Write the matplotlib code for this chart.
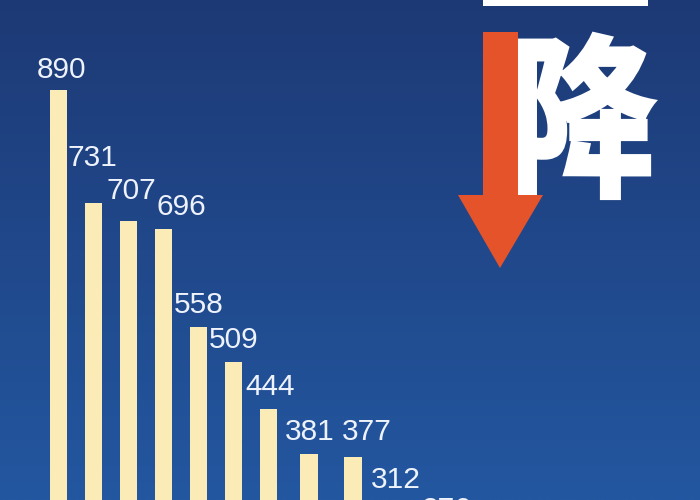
import numpy as np
import matplotlib
matplotlib.use("Agg")
import matplotlib.pyplot as plt
from matplotlib.textpath import TextPath
from matplotlib.font_manager import FontProperties
from matplotlib.patches import PathPatch, Polygon, Rectangle
from matplotlib.transforms import Affine2D

# values (last one is cut off at the bottom edge)
values = [890, 731, 707, 696, 558, 509, 444, 381, 377, 312, 276]
labels = [str(v) for v in values]
headline = "降"

# layout only: bar slots (spacing widens to the right) and label nudges in px
slots = [0, 1, 2, 3, 4, 5, 6, 7.16, 8.41, 9.44, 10.61]
nudge_x = [3, -1, 3, 18, 0, 0, 2, 1, 14, 7, 17]
nudge_y = [-2, 23, 8, 0, 0, 0, 0, 0, 3, 2, -3]

bar_color = "#fbebb6"
arrow_color = "#e5532b"
label_color = "#eef3fb"

fig = plt.figure(figsize=(7, 5), dpi=100)

# background gradient, dark navy at top to brighter blue at bottom
bg = fig.add_axes([0, 0, 1, 1])
grad = np.linspace(0, 1, 256).reshape(-1, 1)
cmap = matplotlib.colors.LinearSegmentedColormap.from_list("bg", ["#1d3975", "#2357a0"])
bg.imshow(grad, aspect="auto", cmap=cmap, extent=[0, 1, 0, 1], origin="upper")
bg.axis("off")

# bars: baseline sits below the bottom of the picture
ax = fig.add_axes([0, 0, 1, 1])
ax.patch.set_alpha(0)
ax.bar(slots, values, width=0.5, color=bar_color, zorder=2)
for xi, v, lab, dx, dy in zip(slots, values, labels, nudge_x, nudge_y):
    ax.annotate(lab, (xi, v), xytext=(dx, 22 + dy), textcoords="offset pixels",
                ha="center", va="center", color=label_color, fontsize=21.5,
                family="Liberation Sans", annotation_clip=False)
ax.set_xlim(-1.671, 18.33)
ax.set_ylim(317, 1015)
ax.axis("off")

# overlay in pixel coords for the headline graphic
ov = fig.add_axes([0, 0, 1, 1])
ov.patch.set_alpha(0)
ov.set_xlim(0, 700)
ov.set_ylim(500, 0)
ov.axis("off")

# white block of the character above (cut off at the top)
ov.add_patch(Rectangle((483, -5), 165, 11, color="white", lw=0))

# big character, squeezed into its box and thickened
tp = TextPath((0, 0), headline, size=1,
              prop=FontProperties(family="Noto Sans CJK SC", weight="black"))
vx, vy = tp.vertices[:, 0], tp.vertices[:, 1]
x0, x1, y0, y1 = 510, 654, 34, 198
sx = (x1 - x0) / (vx.max() - vx.min())
sy = (y1 - y0) / (vy.max() - vy.min())
tr = Affine2D().translate(-vx.min(), -vy.max()).scale(sx, -sy).translate(x0, y0)
ov.add_patch(PathPatch(tr.transform_path(tp), facecolor="white",
                       edgecolor="white", lw=3, zorder=3))

# red down arrow
arrow = Polygon([(483, 32), (518, 32), (518, 195), (543, 195),
                 (500, 268), (458, 195), (483, 195)],
                closed=True, color=arrow_color, lw=0, zorder=4)
ov.add_patch(arrow)

fig.savefig("out.png", dpi=100)
